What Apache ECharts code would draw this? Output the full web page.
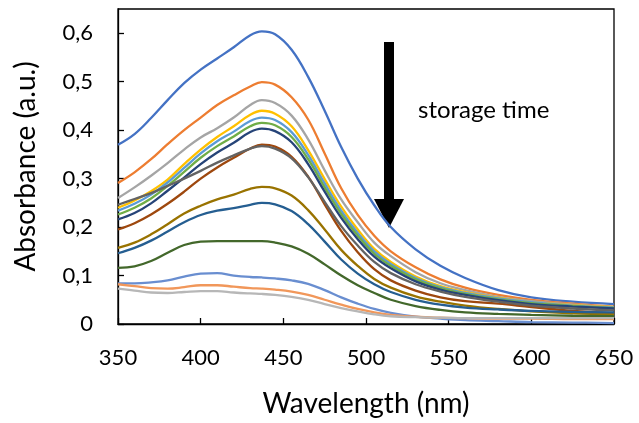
<!DOCTYPE html>
<html>
<head>
<meta charset="utf-8">
<script src="https://cdn.jsdelivr.net/npm/echarts@6/dist/echarts.min.js"></script>
<style>
html,body{margin:0;padding:0;background:#fff;}
#chart{width:639px;height:423px;}
</style>
</head>
<body>
<div id="chart"></div>
<script>
// Wavelength grid (nm)
const wavelengths = [350,360,370,380,390,400,410,420,430,437,445,455,465,475,485,495,505,515,530,545,560,580,600,625,650];

// Absorbance spectra, from fresh sample (top) to longest storage time (bottom)
const spectrum01 = [.370,.392,.425,.462,.497,.525,.548,.571,.596,.604,.598,.566,.510,.440,.365,.300,.245,.200,.154,.120,.095,.070,.055,.046,.041];
const spectrum02 = [.291,.313,.340,.371,.400,.426,.452,.472,.490,.499,.494,.468,.422,.352,.280,.225,.182,.150,.117,.092,.075,.060,.050,.042,.036];
const spectrum03 = [.260,.282,.306,.332,.360,.385,.404,.426,.452,.462,.456,.430,.381,.317,.257,.210,.168,.140,.107,.084,.070,.056,.047,.040,.035];
const spectrum04 = [.240,.255,.274,.298,.330,.360,.386,.408,.432,.440,.434,.408,.359,.299,.242,.195,.155,.128,.098,.078,.066,.054,.045,.039,.035];
const spectrum05 = [.234,.248,.267,.292,.322,.352,.377,.397,.419,.426,.421,.396,.349,.290,.234,.188,.150,.124,.095,.076,.064,.053,.045,.038,.034];
const spectrum06 = [.226,.240,.259,.285,.314,.343,.367,.387,.408,.415,.410,.386,.340,.282,.227,.182,.145,.120,.092,.074,.062,.051,.043,.037,.033];
const spectrum07 = [.216,.229,.249,.275,.302,.330,.354,.374,.396,.403,.398,.375,.330,.273,.219,.175,.139,.115,.088,.071,.060,.049,.041,.036,.032];
const spectrum08 = [.195,.208,.226,.248,.273,.300,.323,.343,.362,.370,.366,.345,.304,.247,.192,.148,.113,.090,.069,.055,.047,.042,.035,.027,.022];
const spectrum09 = [.246,.258,.270,.285,.300,.316,.333,.348,.362,.367,.362,.342,.303,.252,.202,.162,.128,.105,.082,.067,.056,.046,.038,.032,.028];
const spectrum10 = [.157,.168,.185,.206,.228,.244,.257,.267,.279,.283,.280,.265,.235,.195,.153,.120,.093,.075,.057,.046,.038,.031,.026,.022,.020];
const spectrum11 = [.146,.157,.172,.191,.210,.225,.234,.239,.246,.250,.247,.233,.206,.170,.133,.104,.082,.066,.050,.040,.034,.030,.027,.025,.024];
const spectrum12 = [.116,.119,.130,.147,.163,.170,.171,.171,.171,.171,.168,.160,.145,.123,.100,.080,.064,.050,.037,.029,.024,.021,.019,.017,.016];
const spectrum13 = [.084,.084,.086,.090,.098,.104,.105,.100,.097,.096,.094,.090,.083,.070,.055,.042,.031,.023,.015,.011,.008,.006,.004,.003,.002];
const spectrum14 = [.082,.078,.074,.073,.076,.080,.080,.077,.074,.073,.071,.067,.060,.050,.040,.031,.024,.019,.015,.013,.012,.011,.011,.010,.010];
const spectrum15 = [.073,.069,.065,.064,.066,.068,.068,.065,.063,.062,.060,.056,.050,.041,.033,.026,.020,.016,.014,.013,.012,.012,.012,.012,.012];

const spectra = [spectrum01,spectrum02,spectrum03,spectrum04,spectrum05,spectrum06,spectrum07,spectrum08,spectrum09,spectrum10,spectrum11,spectrum12,spectrum13,spectrum14,spectrum15];

// Axis settings / texts
const xTicks = {min: 350, max: 650, step: 50};
const yTicks = {min: 0, max: 0.65, step: 0.1};
const xTitle = 'Wavelength (nm)';
const yTitle = 'Absorbance (a.u.)';
const arrowLabel = 'storage time';

const colors = ['#4472C4','#ED7D31','#A5A5A5','#FFC000','#5B9BD5','#70AD47','#264478','#9E480E','#636363','#997300','#255E91','#43682B','#698ED0','#F1975A','#B7B7B7'];

const FONT = 'Lato';

const chart = echarts.init(document.getElementById('chart'), null, {renderer: 'canvas'});

const series = spectra.map((s, k) => ({
  type: 'line',
  data: wavelengths.map((w, i) => [w, s[i]]),
  smooth: 0.4,
  showSymbol: false,
  symbol: 'none',
  lineStyle: {color: colors[k], width: 2.3},
  itemStyle: {color: colors[k]},
  silent: true,
  animation: false
}));

const option = {
  animation: false,
  grid: {left: 118, right: 25, top: 9, bottom: 98, show: true, borderColor: '#000', borderWidth: 1.3, backgroundColor: 'transparent'},
  xAxis: {
    type: 'value', min: xTicks.min, max: xTicks.max, interval: xTicks.step,
    name: xTitle, nameLocation: 'middle', nameGap: 66,
    nameTextStyle: {fontFamily: FONT, fontSize: 28, color: '#000'},
    axisLine: {show: true, lineStyle: {color: '#000', width: 1.3}},
    axisTick: {show: true, inside: true, length: 6, lineStyle: {color: '#000', width: 1.3}},
    axisLabel: {fontFamily: FONT, fontSize: 22, color: '#000', margin: 23},
    splitLine: {show: false}
  },
  yAxis: {
    type: 'value', min: yTicks.min, max: yTicks.max, interval: yTicks.step,
    name: yTitle, nameLocation: 'middle', nameGap: 78,
    nameTextStyle: {fontFamily: FONT, fontSize: 28, color: '#000'},
    axisLine: {show: true, lineStyle: {color: '#000', width: 1.3}},
    axisTick: {show: true, inside: true, length: 6, lineStyle: {color: '#000', width: 1.3}},
    axisLabel: {fontFamily: FONT, fontSize: 22, color: '#000', margin: 25, showMaxLabel: false,
      formatter: v => v === 0 ? '0' : v.toFixed(1).replace('.', ',')},
    splitLine: {show: false}
  },
  graphic: [
    {type: 'rect', shape: {x: 384, y: 42, width: 10, height: 160}, style: {fill: '#000'}, silent: true},
    {type: 'polygon', shape: {points: [[374, 199], [404, 199], [389, 228]]}, style: {fill: '#000'}, silent: true},
    {type: 'text', left: 418, top: 98, style: {text: arrowLabel, font: '24px Lato', fill: '#000'}, silent: true}
  ],
  series: series
};
chart.setOption(option);
</script>
</body>
</html>
